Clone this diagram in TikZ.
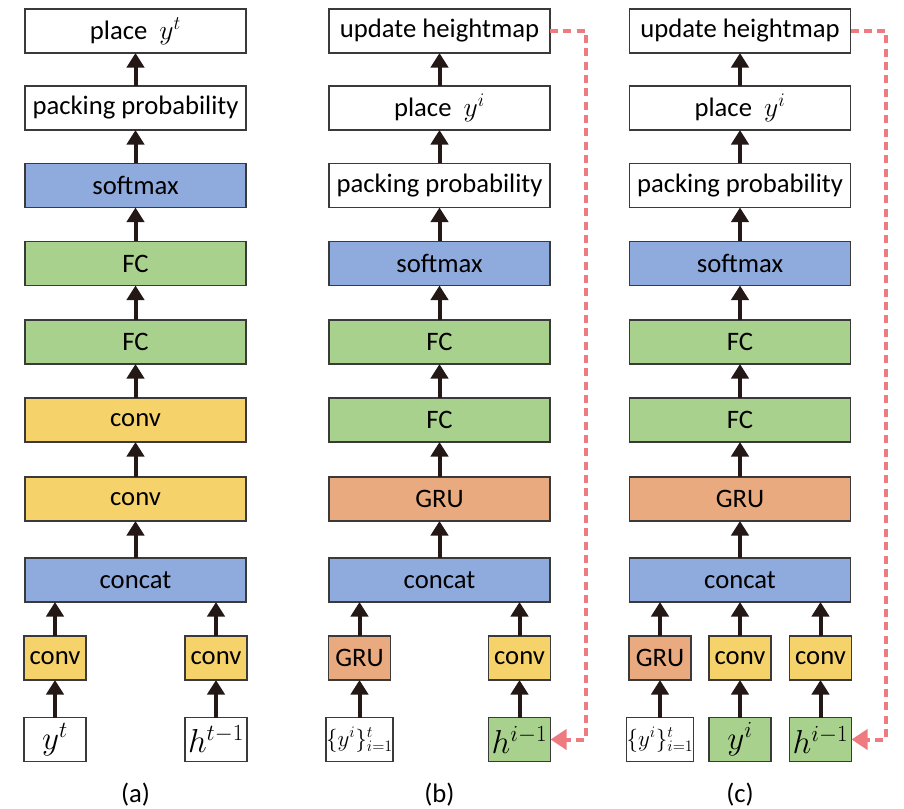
\documentclass[tikz,border=0pt]{standalone}
\usepackage{amsmath}
\usepackage{fontspec}
\setmainfont{Carlito}
\usetikzlibrary{positioning, arrows.meta}

\definecolor{boxline}{HTML}{3A3A3A}
\definecolor{blayer}{HTML}{8FAADC}
\definecolor{glayer}{HTML}{A9D18E}
\definecolor{ylayer}{HTML}{F6D36A}
\definecolor{olayer}{HTML}{EAAA7F}
\definecolor{arrowblack}{HTML}{231815}
\definecolor{loopred}{HTML}{EE7B7F}

\tikzset{
    layer/.style = {shape = rectangle, draw = boxline, line width = 1.1pt, inner sep = 0pt, outer sep = 0pt,
        minimum width = 221*0.75pt, minimum height = 44*0.75pt, font = \fontsize{20}{24}\selectfont},
    small/.style = {layer, minimum width = 62*0.75pt},
    inmath/.style = {small, font = \fontsize{24}{28}\selectfont},
    setmath/.style = {small, font = \fontsize{16.5}{18}\selectfont},
    flow/.style = {draw = arrowblack, line width = 3pt, -{Triangle[width = 13pt, length = 11pt]}},
    feedback/.style = {draw = loopred, line width = 3pt, dash pattern = on 6pt off 4pt,
        -{Triangle[width = 15pt, length = 12pt]}},
}

\begin{document}
\begin{tikzpicture}[x = 0.75pt, y = -0.75pt]
    \useasboundingbox (0, 0) rectangle (904, 809);

    % (a)
    \node [layer] (a1) at (135.5, 31) {place \ $y^t$};
    \node [layer] (a2) at (135.5, 108) {packing probability};
    \node [layer, fill = blayer] (a3) at (135.5, 185.5) {softmax};
    \node [layer, fill = glayer] (a4) at (135.5, 263.5) {FC};
    \node [layer, fill = glayer] (a5) at (135.5, 342) {FC};
    \node [layer, fill = ylayer] (a6) at (135.5, 420) {conv};
    \node [layer, fill = ylayer] (a7) at (135.5, 499) {conv};
    \node [layer, fill = blayer] (a8) at (135.5, 580) {concat};
    \node [small, fill = ylayer] (a9l) at (55, 658) {conv};
    \node [small, fill = ylayer] (a9r) at (216, 658) {conv};
    \node [inmath] (a10l) at (55, 739.5) {$y^t$};
    \node [inmath] (a10r) at (216, 739.5) {$h^{t-1}$};
    \node [font = \fontsize{20}{24}\selectfont] (alabel) at (135.5, 795) {(a)};

    \draw [flow] (a10l) -- (a9l);
    \draw [flow] (a10r) -- (a9r);
    \draw [flow] (a9l) -- (a9l |- a8.south);
    \draw [flow] (a9r) -- (a9r |- a8.south);
    \draw [flow] (a8) -- (a7);
    \draw [flow] (a7) -- (a6);
    \draw [flow] (a6) -- (a5);
    \draw [flow] (a5) -- (a4);
    \draw [flow] (a4) -- (a3);
    \draw [flow] (a3) -- (a2);
    \draw [flow] (a2) -- (a1);

    % (b)
    \node [layer] (b1) at (439.5, 31) {update heightmap};
    \node [layer] (b2) at (439.5, 108) {place \ $y^i$};
    \node [layer] (b3) at (439.5, 185.5) {packing probability};
    \node [layer, fill = blayer] (b4) at (439.5, 263.5) {softmax};
    \node [layer, fill = glayer] (b5) at (439.5, 342) {FC};
    \node [layer, fill = glayer] (b6) at (439.5, 420) {FC};
    \node [layer, fill = olayer] (b7) at (439.5, 499) {GRU};
    \node [layer, fill = blayer] (b8) at (439.5, 580) {concat};
    \node [small, fill = olayer] (b9l) at (359.5, 658) {GRU};
    \node [small, fill = ylayer] (b9r) at (519.5, 658) {conv};
    \node [setmath] (b10l) at (359.5, 739.5) {$\{y^i\}_{i=1}^t$};
    \node [inmath, fill = glayer] (b10r) at (519.5, 739.5) {$h^{i-1}$};
    \node [font = \fontsize{20}{24}\selectfont] (blabel) at (439.5, 795) {(b)};
    \coordinate (bturn) at (586, 31);

    \draw [flow] (b10l) -- (b9l);
    \draw [flow] (b10r) -- (b9r);
    \draw [flow] (b9l) -- (b9l |- b8.south);
    \draw [flow] (b9r) -- (b9r |- b8.south);
    \draw [flow] (b8) -- (b7);
    \draw [flow] (b7) -- (b6);
    \draw [flow] (b6) -- (b5);
    \draw [flow] (b5) -- (b4);
    \draw [flow] (b4) -- (b3);
    \draw [flow] (b3) -- (b2);
    \draw [flow] (b2) -- (b1);
    \draw [feedback] (b1) -- (bturn) |- (b10r);

    % (c)
    \node [layer] (c1) at (740, 31) {update heightmap};
    \node [layer] (c2) at (740, 108) {place \ $y^i$};
    \node [layer] (c3) at (740, 185.5) {packing probability};
    \node [layer, fill = blayer] (c4) at (740, 263.5) {softmax};
    \node [layer, fill = glayer] (c5) at (740, 342) {FC};
    \node [layer, fill = glayer] (c6) at (740, 420) {FC};
    \node [layer, fill = olayer] (c7) at (740, 499) {GRU};
    \node [layer, fill = blayer] (c8) at (740, 580) {concat};
    \node [small, fill = olayer] (c9l) at (660, 658) {GRU};
    \node [small, fill = ylayer] (c9m) at (740, 658) {conv};
    \node [small, fill = ylayer] (c9r) at (820.5, 658) {conv};
    \node [setmath] (c10l) at (660, 739.5) {$\{y^i\}_{i=1}^t$};
    \node [inmath, fill = glayer] (c10m) at (740, 739.5) {$y^i$};
    \node [inmath, fill = glayer] (c10r) at (820.5, 739.5) {$h^{i-1}$};
    \node [font = \fontsize{20}{24}\selectfont] (clabel) at (740, 795) {(c)};
    \coordinate (cturn) at (886, 31);

    \draw [flow] (c10l) -- (c9l);
    \draw [flow] (c10m) -- (c9m);
    \draw [flow] (c10r) -- (c9r);
    \draw [flow] (c9l) -- (c9l |- c8.south);
    \draw [flow] (c9m) -- (c8);
    \draw [flow] (c9r) -- (c9r |- c8.south);
    \draw [flow] (c8) -- (c7);
    \draw [flow] (c7) -- (c6);
    \draw [flow] (c6) -- (c5);
    \draw [flow] (c5) -- (c4);
    \draw [flow] (c4) -- (c3);
    \draw [flow] (c3) -- (c2);
    \draw [flow] (c2) -- (c1);
    \draw [feedback] (c1) -- (cturn) |- (c10r);
\end{tikzpicture}
\end{document}
